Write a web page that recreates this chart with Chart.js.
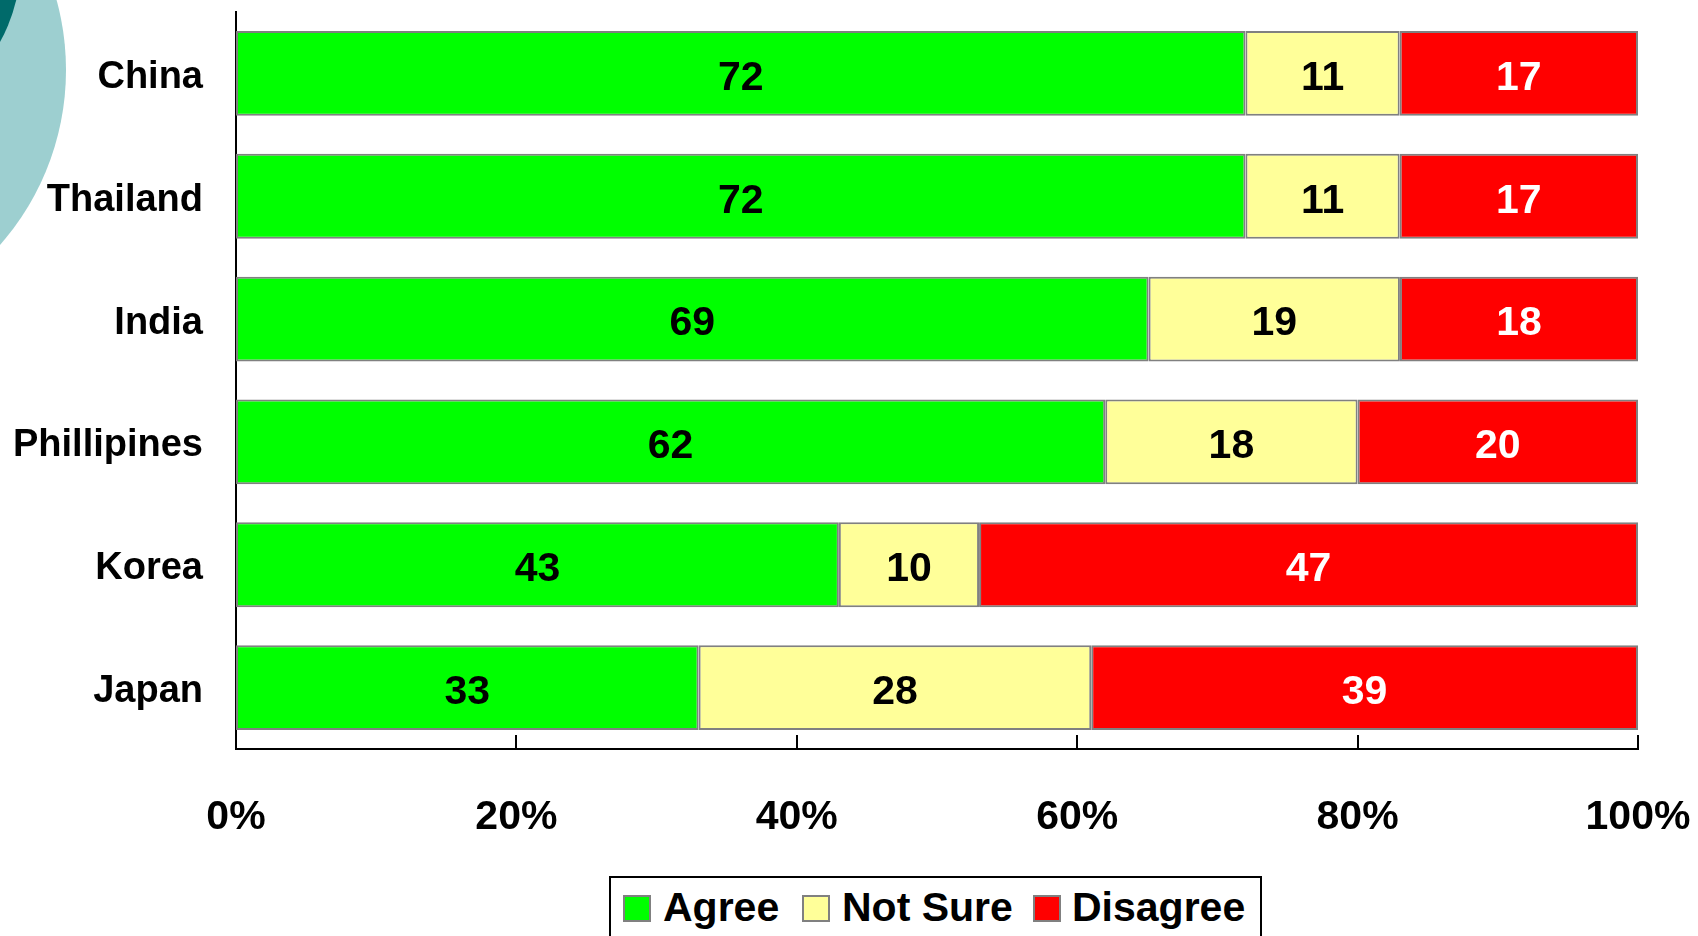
<!DOCTYPE html>
<html>
<head>
<meta charset="utf-8">
<script src="https://cdn.jsdelivr.net/npm/chart.js@4/dist/chart.umd.min.js"></script>
<style>
  html, body { margin: 0; padding: 0; background: #fff; overflow: hidden; }
  #wrap { position: relative; width: 1698px; height: 936px; }
  #c { position: absolute; left: 0; top: 0; z-index: 2; }
  .deco { position: absolute; border-radius: 50%; z-index: 1; }
  #legend { position: absolute; left: 609px; top: 876px; width: 649px; height: 80px;
            border: 2px solid #000; background: #fff; z-index: 3; }
  .lbox { position: absolute; top: 17px; width: 24px; height: 23px; border: 2px solid #808080; }
  .ltxt { position: absolute; top: 9px; font-family: 'Liberation Sans', Arial, sans-serif; font-weight: bold;
          font-size: 41px; line-height: 41px; color: #000; white-space: nowrap; }
</style>
</head>
<body>
<div id="wrap">
  <div class="deco" style="left:-464px; top:-195px; width:530px; height:530px; background:#9dcfd0;"></div>
  <div class="deco" style="left:-321px; top:-211px; width:342px; height:342px; background:#006a6a;"></div>
  <canvas id="c" width="1698" height="936"></canvas>
  <div id="legend"></div>
</div>
<script>
const categories = ['China', 'Thailand', 'India', 'Phillipines', 'Korea', 'Japan'];
const agree    = [72, 72, 69, 62, 43, 33];
const notSure  = [11, 11, 19, 18, 10, 28];
const disagree = [17, 17, 18, 20, 47, 39];
const seriesNames = ['Agree', 'Not Sure', 'Disagree'];
const seriesColors = ['#00ff00', '#ffff99', '#ff0000'];
const labelColors = ['#000000', '#000000', '#ffffff'];
const xTickValues = [0, 20, 40, 60, 80, 100];

const raw = [agree, notSure, disagree];
const totals = categories.map((_, i) => agree[i] + notSure[i] + disagree[i]);
const pct = raw.map(s => s.map((v, i) => v / totals[i] * 100));

const FONT = "'Liberation Sans', Arial, sans-serif";

const valueLabels = {
  id: 'valueLabels',
  afterDatasetsDraw(chart) {
    const ctx = chart.ctx;
    ctx.save();
    ctx.font = 'bold 41px ' + FONT;
    ctx.textAlign = 'center';
    ctx.textBaseline = 'middle';
    chart.data.datasets.forEach((ds, di) => {
      const meta = chart.getDatasetMeta(di);
      meta.data.forEach((el, i) => {
        const p = el.getCenterPoint();
        ctx.fillStyle = labelColors[di];
        ctx.fillText(String(raw[di][i]), p.x, p.y + 5);
      });
    });
    ctx.restore();
  }
};

const innerTicks = {
  id: 'innerTicks',
  afterDraw(chart) {
    const ctx = chart.ctx;
    const xs = chart.scales.x;
    const bottom = chart.chartArea.bottom;
    ctx.save();
    ctx.strokeStyle = '#000';
    ctx.lineWidth = 2;
    xTickValues.forEach(v => {
      if (v === 0) return;
      const x = Math.round(xs.getPixelForValue(v));
      ctx.beginPath();
      ctx.moveTo(x, bottom);
      ctx.lineTo(x, bottom - 14);
      ctx.stroke();
    });
    ctx.restore();
  }
};

new Chart(document.getElementById('c'), {
  type: 'bar',
  data: {
    labels: categories,
    datasets: seriesNames.map((n, di) => ({
      label: n,
      data: pct[di],
      backgroundColor: seriesColors[di],
      borderColor: '#808080',
      borderWidth: 2,
      borderSkipped: false,
      barPercentage: 0.69,
      categoryPercentage: 1.0
    }))
  },
  options: {
    indexAxis: 'y',
    responsive: false,
    animation: false,
    events: [],
    layout: { padding: { left: 0, right: 60, top: 12, bottom: 0 } },
    plugins: { legend: { display: false }, tooltip: { enabled: false } },
    scales: {
      x: {
        stacked: true,
        min: 0, max: 100,
        afterBuildTicks(scale) { scale.ticks = xTickValues.map(v => ({ value: v })); },
        afterFit(scale) {
          scale.height = 187;
          scale.paddingLeft = 0; scale.paddingRight = 0;
        },
        grid: { display: false, drawTicks: false },
        border: { display: true, color: '#000', width: 2 },
        ticks: {
          padding: 44,
          color: '#000',
          font: { family: FONT, size: 41, weight: 'bold' },
          maxRotation: 0,
          autoSkip: false,
          callback: v => v + '%'
        }
      },
      y: {
        stacked: true,
        afterFit(scale) {
          scale.width = 236;
          scale.paddingTop = 0; scale.paddingBottom = 0;
        },
        grid: { display: false, drawTicks: false },
        border: { display: true, color: '#000', width: 2 },
        ticks: {
          padding: 33,
          labelOffset: 4,
          color: '#000',
          font: { family: FONT, size: 38, weight: 'bold' }
        }
      }
    }
  },
  plugins: [valueLabels, innerTicks]
});

// legend
const legend = document.getElementById('legend');
const boxLeft = [12, 191, 422];
const txtLeft = [52, 231, 461];
seriesNames.forEach((n, i) => {
  const b = document.createElement('div');
  b.className = 'lbox';
  b.style.left = boxLeft[i] + 'px';
  b.style.background = seriesColors[i];
  legend.appendChild(b);
  const t = document.createElement('div');
  t.className = 'ltxt';
  t.style.left = txtLeft[i] + 'px';
  t.textContent = n;
  legend.appendChild(t);
});
</script>
</body>
</html>
